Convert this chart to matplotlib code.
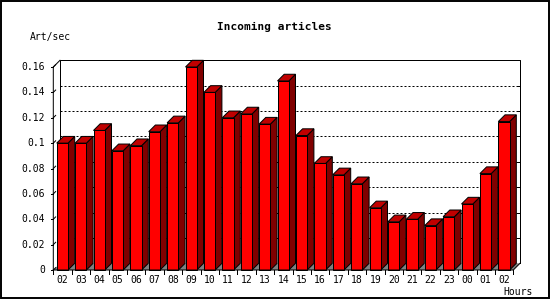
import matplotlib
matplotlib.use("Agg")
import matplotlib.pyplot as plt
from matplotlib.patches import Polygon, Rectangle

# data
hours = ["02", "03", "04", "05", "06", "07", "08", "09", "10", "11", "12", "13", "14",
         "15", "16", "17", "18", "19", "20", "21", "22", "23", "00", "01", "02"]
art_per_sec = [0.100, 0.100, 0.110, 0.094, 0.098, 0.109, 0.116, 0.160, 0.140, 0.120,
               0.123, 0.115, 0.149, 0.106, 0.084, 0.075, 0.068, 0.049, 0.038, 0.040,
               0.035, 0.042, 0.052, 0.076, 0.117]
yticks = [0, 0.02, 0.04, 0.06, 0.08, 0.1, 0.12, 0.14, 0.16]
ytick_labels = ["0", "0.02", "0.04", "0.06", "0.08", "0.1", "0.12", "0.14", "0.16"]

front_col = "#ff0000"
top_col = "#c00000"
side_col = "#800000"
floor_col = "#808080"
lw = 0.72
font = "DejaVu Sans Mono"

W, H = 550, 300
fig = plt.figure(figsize=(W / 100, H / 100), dpi=100)
fig.patch.set_facecolor("white")

# plot area (front plane) in pixels
x0, x1 = 53.3, 513.3
y0, y1 = 270, 67
ax = fig.add_axes([x0 / W, 1 - y0 / H, (x1 - x0) / W, (y0 - y1) / H])
ax.set_axis_off()
n = len(hours)
ymax = 0.16
ax.set_xlim(0, n)
ax.set_ylim(0, ymax)

depth_px = 6.7
DX = depth_px / ((x1 - x0) / n)
DY = depth_px / ((y0 - y1) / ymax)

# floor
ax.add_patch(Polygon([(0, 0), (n, 0), (n + DX, DY), (DX, DY)], closed=True,
                     facecolor=floor_col, edgecolor="none", zorder=1, clip_on=False))

# back frame
ax.plot([DX, DX, n + DX, n + DX], [DY, ymax + DY, ymax + DY, DY], color="black",
        lw=lw, zorder=1, clip_on=False)

# grid lines on back wall
for v in yticks[1:-1]:
    ax.plot([DX, n + DX], [v + DY, v + DY], color="black", lw=lw,
            linestyle=(0, (2, 2)), zorder=1, clip_on=False)
    ax.plot([n + DX - 0.12, n + DX], [v + DY, v + DY], color="black", lw=lw,
            zorder=1, clip_on=False)

# bars
bw = 0.614
off = 0.185
for i, v in enumerate(art_per_sec):
    xl = i + off
    xr = xl + bw
    ax.add_patch(Polygon([(xr, 0), (xr + DX, DY), (xr + DX, v + DY), (xr, v)],
                         closed=True, facecolor=side_col, edgecolor="black",
                         lw=lw, zorder=3, clip_on=False))
    ax.add_patch(Polygon([(xl, v), (xr, v), (xr + DX, v + DY), (xl + DX, v + DY)],
                         closed=True, facecolor=top_col, edgecolor="black",
                         lw=lw, zorder=3, clip_on=False))
    ax.add_patch(Rectangle((xl, 0), bw, v, facecolor=front_col, edgecolor="black",
                           lw=lw, zorder=4, clip_on=False))

# front axes
ax.plot([DX, 0, 0], [ymax + DY, ymax, 0], color="black", lw=lw, zorder=5, clip_on=False)
ax.plot([0, n, n + DX], [0, 0, DY], color="black", lw=lw, zorder=5, clip_on=False)

# y ticks and labels
for v, lab in zip(yticks, ytick_labels):
    ax.plot([-0.15, 0], [v, v], color="black", lw=lw, zorder=5, clip_on=False)
    ax.plot([0, DX * 0.35], [v, v + DY * 0.35], color="black", lw=lw, zorder=5,
            clip_on=False)
    ax.text(-0.45, v, lab, ha="right", va="center", fontsize=7, family=font)

# x ticks and labels
for i in range(n + 1):
    ax.plot([i, i], [0, -0.003], color="black", lw=lw, zorder=5, clip_on=False)
for i, lab in enumerate(hours):
    ax.text(i + 0.5, -0.0075, lab, ha="center", va="center", fontsize=7, family=font)

fig.text(274 / W, 1 - 27 / H, "Incoming articles", ha="center", va="center",
         fontsize=8, fontweight="bold", family=font)
fig.text(30 / W, 1 - 37 / H, "Art/sec", ha="left", va="center", fontsize=7, family=font)
fig.text(533 / W, 1 - 292 / H, "Hours", ha="right", va="center", fontsize=7, family=font)

# outer border
fig.patches.append(Rectangle((0.5 / W, 2 / H), 548 / W, 297.5 / H, transform=fig.transFigure,
                             fill=False, edgecolor="black", lw=1.4))

fig.savefig("out.png", dpi=100)
